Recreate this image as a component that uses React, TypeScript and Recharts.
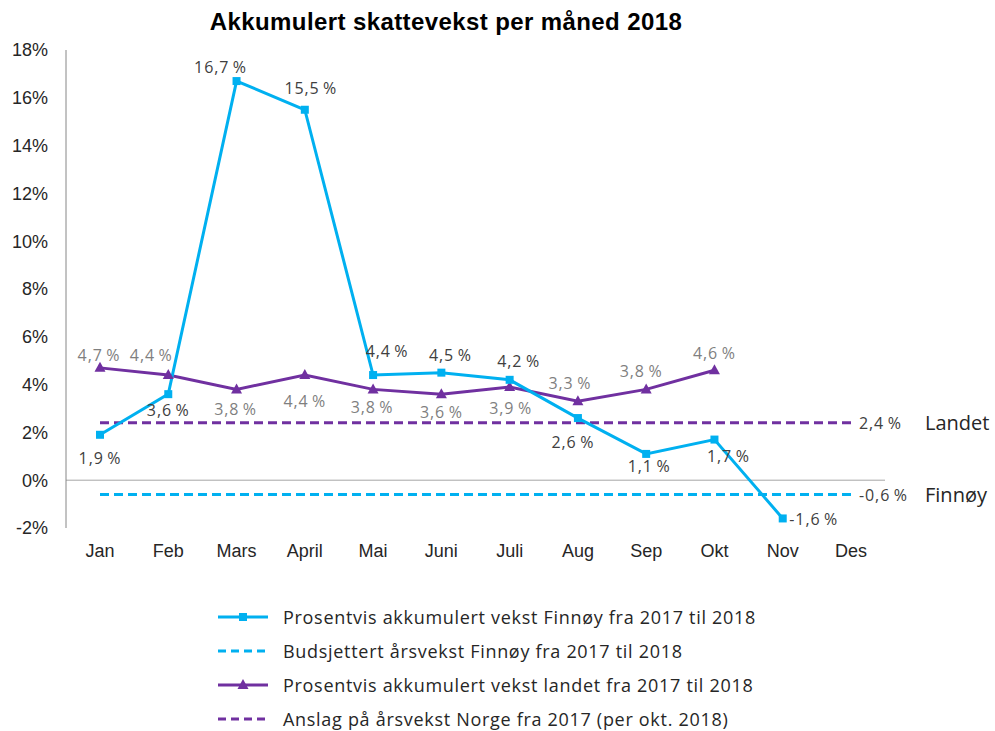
import React from "react";
import {
  LineChart,
  Line,
  XAxis,
  YAxis,
  ReferenceLine,
  LabelList,
} from "recharts";

const months = ["Jan", "Feb", "Mars", "April", "Mai", "Juni", "Juli", "Aug", "Sep", "Okt", "Nov", "Des"];
const finnoyVekst = [1.9, 3.6, 16.7, 15.5, 4.4, 4.5, 4.2, 2.6, 1.1, 1.7, -1.6, null];
const landetVekst = [4.7, 4.4, 3.8, 4.4, 3.8, 3.6, 3.9, 3.3, 3.8, 4.6, null, null];
const budsjettFinnoy = -0.6;
const anslagNorge = 2.4;
const yTicks = [-2, 0, 2, 4, 6, 8, 10, 12, 14, 16, 18];

const seriesNames = [
  "Prosentvis akkumulert vekst Finnøy fra 2017 til 2018",
  "Budsjettert årsvekst Finnøy fra 2017 til 2018",
  "Prosentvis akkumulert vekst landet fra 2017 til 2018",
  "Anslag på årsvekst Norge fra 2017 (per okt. 2018)",
];

// label offsets (dx, dy) from each point, to mimic the original placement
const finnoyLabelOffset = [
  [0, 23], [0, 16], [-16, -14], [6, -22], [14, -24], [9, -18],
  [9, -19], [-5, 24], [3, 12], [14, 16], [31, 1], [0, 0],
];
const landetLabelOffset = [
  [-1, -13], [-17, -20], [-1, 20], [0, 26], [-1, 18], [0, 18],
  [1, 21], [-8, -18], [-5, -18], [0, -17], [0, 0], [0, 0],
];

const BLUE = "#00b0f0";
const PURPLE = "#7030a0";
const LABEL_FONT = "'Open Sans', sans-serif";
const AXIS_FONT = "'Liberation Sans', Arial, sans-serif";

const data = months.map((m, i) => ({
  month: m,
  finnoy: finnoyVekst[i],
  budsjett: budsjettFinnoy,
  landet: landetVekst[i],
  anslag: anslagNorge,
}));

const fmt = (v: number) => v.toFixed(1).replace(".", ",") + "\u2009%";

const SquareDot = (props: any) => {
  const { cx, cy, value } = props;
  if (value == null || cx == null) return null;
  return <rect x={cx - 4} y={cy - 4} width={8} height={8} fill={BLUE} />;
};

const TriangleDot = (props: any) => {
  const { cx, cy, value } = props;
  if (value == null || cx == null) return null;
  return (
    <path d={`M${cx},${cy - 6} L${cx + 5.5},${cy + 4} L${cx - 5.5},${cy + 4} Z`} fill={PURPLE} />
  );
};

const pointLabel = (offsets: number[][], color: string) => (props: any) => {
  const { x, y, value, index } = props;
  if (value == null) return null;
  const [dx, dy] = offsets[index];
  return (
    <text
      x={x + dx}
      y={y + dy}
      textAnchor="middle"
      dominantBaseline="central"
      fill={color}
      fontSize={16}
      letterSpacing={0.9}
      fontFamily={LABEL_FONT}
    >
      {fmt(value)}
    </text>
  );
};

const endLabel = (name: string) => (props: any) => {
  const { x, y, value, index } = props;
  if (index !== months.length - 1) return null;
  return (
    <g>
      <text x={x + 8} y={y} dominantBaseline="central" fill="#404040" fontSize={16} letterSpacing={0.9} fontFamily={LABEL_FONT}>
        {fmt(value)}
      </text>
      <text x={x + 74} y={y} dominantBaseline="central" fill="#262626" fontSize={20} fontFamily={LABEL_FONT}>
        {name}
      </text>
    </g>
  );
};

const LegendBox = () => {
  const items = [
    { color: BLUE, dash: false, marker: "square" },
    { color: BLUE, dash: true, marker: null },
    { color: PURPLE, dash: false, marker: "triangle" },
    { color: PURPLE, dash: true, marker: null },
  ];
  return (
    <div style={{ position: "absolute", left: 218, top: 600 }}>
      {items.map((it, i) => (
        <div key={i} style={{ display: "flex", alignItems: "center", height: 34 }}>
          <svg width={50} height={12} style={{ marginRight: 15 }}>
            <line
              x1={0}
              x2={50}
              y1={6}
              y2={6}
              stroke={it.color}
              strokeWidth={3}
              strokeDasharray={it.dash ? "8 5" : undefined}
            />
            {it.marker === "square" && <rect x={21} y={2} width={8} height={8} fill={it.color} />}
            {it.marker === "triangle" && <path d="M25,0 L30.5,10 L19.5,10 Z" fill={it.color} />}
          </svg>
          <span
            style={{
              fontFamily: LABEL_FONT,
              fontSize: 18,
              lineHeight: "22px",
              letterSpacing: 0.7,
              color: "#262626",
              whiteSpace: "nowrap",
            }}
          >
            {seriesNames[i]}
          </span>
        </div>
      ))}
    </div>
  );
};

export default function App() {
  return (
    <div style={{ position: "absolute", left: 0, top: 0, width: 995, height: 731, background: "#fff" }}>
      <div
        style={{
          position: "absolute",
          left: 0,
          top: 8,
          width: 892,
          textAlign: "center",
          fontFamily: AXIS_FONT,
          fontWeight: "bold",
          fontSize: 24,
          letterSpacing: 0.4,
          color: "#000",
        }}
      >
        Akkumulert skattevekst per måned 2018
      </div>
      <LineChart width={995} height={590} data={data} margin={{ top: 50, right: 110, left: 0, bottom: 22 }}>
        <XAxis
          dataKey="month"
          axisLine={false}
          tickLine={false}
          padding={{ left: 34, right: 34 }}
          height={40}
          tick={{ fill: "#262626", fontSize: 18, fontFamily: AXIS_FONT }}
          tickMargin={10}
        />
        <YAxis
          width={66}
          domain={[-2, 18]}
          ticks={yTicks}
          interval={0}
          tickFormatter={(v: number) => `${v}%`}
          axisLine={{ stroke: "#868686", strokeWidth: 1 }}
          tickLine={false}
          tickMargin={12}
          tick={{ fill: "#262626", fontSize: 18, fontFamily: AXIS_FONT }}
        />
        <ReferenceLine y={0} stroke="#a6a6a6" strokeWidth={1} />
        <Line
          dataKey="budsjett"
          stroke={BLUE}
          strokeWidth={3}
          strokeDasharray="9 5"
          dot={false}
          isAnimationActive={false}
          name={seriesNames[1]}
        >
          <LabelList dataKey="budsjett" content={endLabel("Finnøy")} />
        </Line>
        <Line
          dataKey="anslag"
          stroke={PURPLE}
          strokeWidth={3}
          strokeDasharray="9 5"
          dot={false}
          isAnimationActive={false}
          name={seriesNames[3]}
        >
          <LabelList dataKey="anslag" content={endLabel("Landet")} />
        </Line>
        <Line
          dataKey="landet"
          stroke={PURPLE}
          strokeWidth={3}
          dot={<TriangleDot />}
          isAnimationActive={false}
          name={seriesNames[2]}
        >
          <LabelList dataKey="landet" content={pointLabel(landetLabelOffset, "#7f7f7f")} />
        </Line>
        <Line
          dataKey="finnoy"
          stroke={BLUE}
          strokeWidth={3}
          dot={<SquareDot />}
          isAnimationActive={false}
          name={seriesNames[0]}
        >
          <LabelList dataKey="finnoy" content={pointLabel(finnoyLabelOffset, "#404040")} />
        </Line>
      </LineChart>
      <LegendBox />
    </div>
  );
}
